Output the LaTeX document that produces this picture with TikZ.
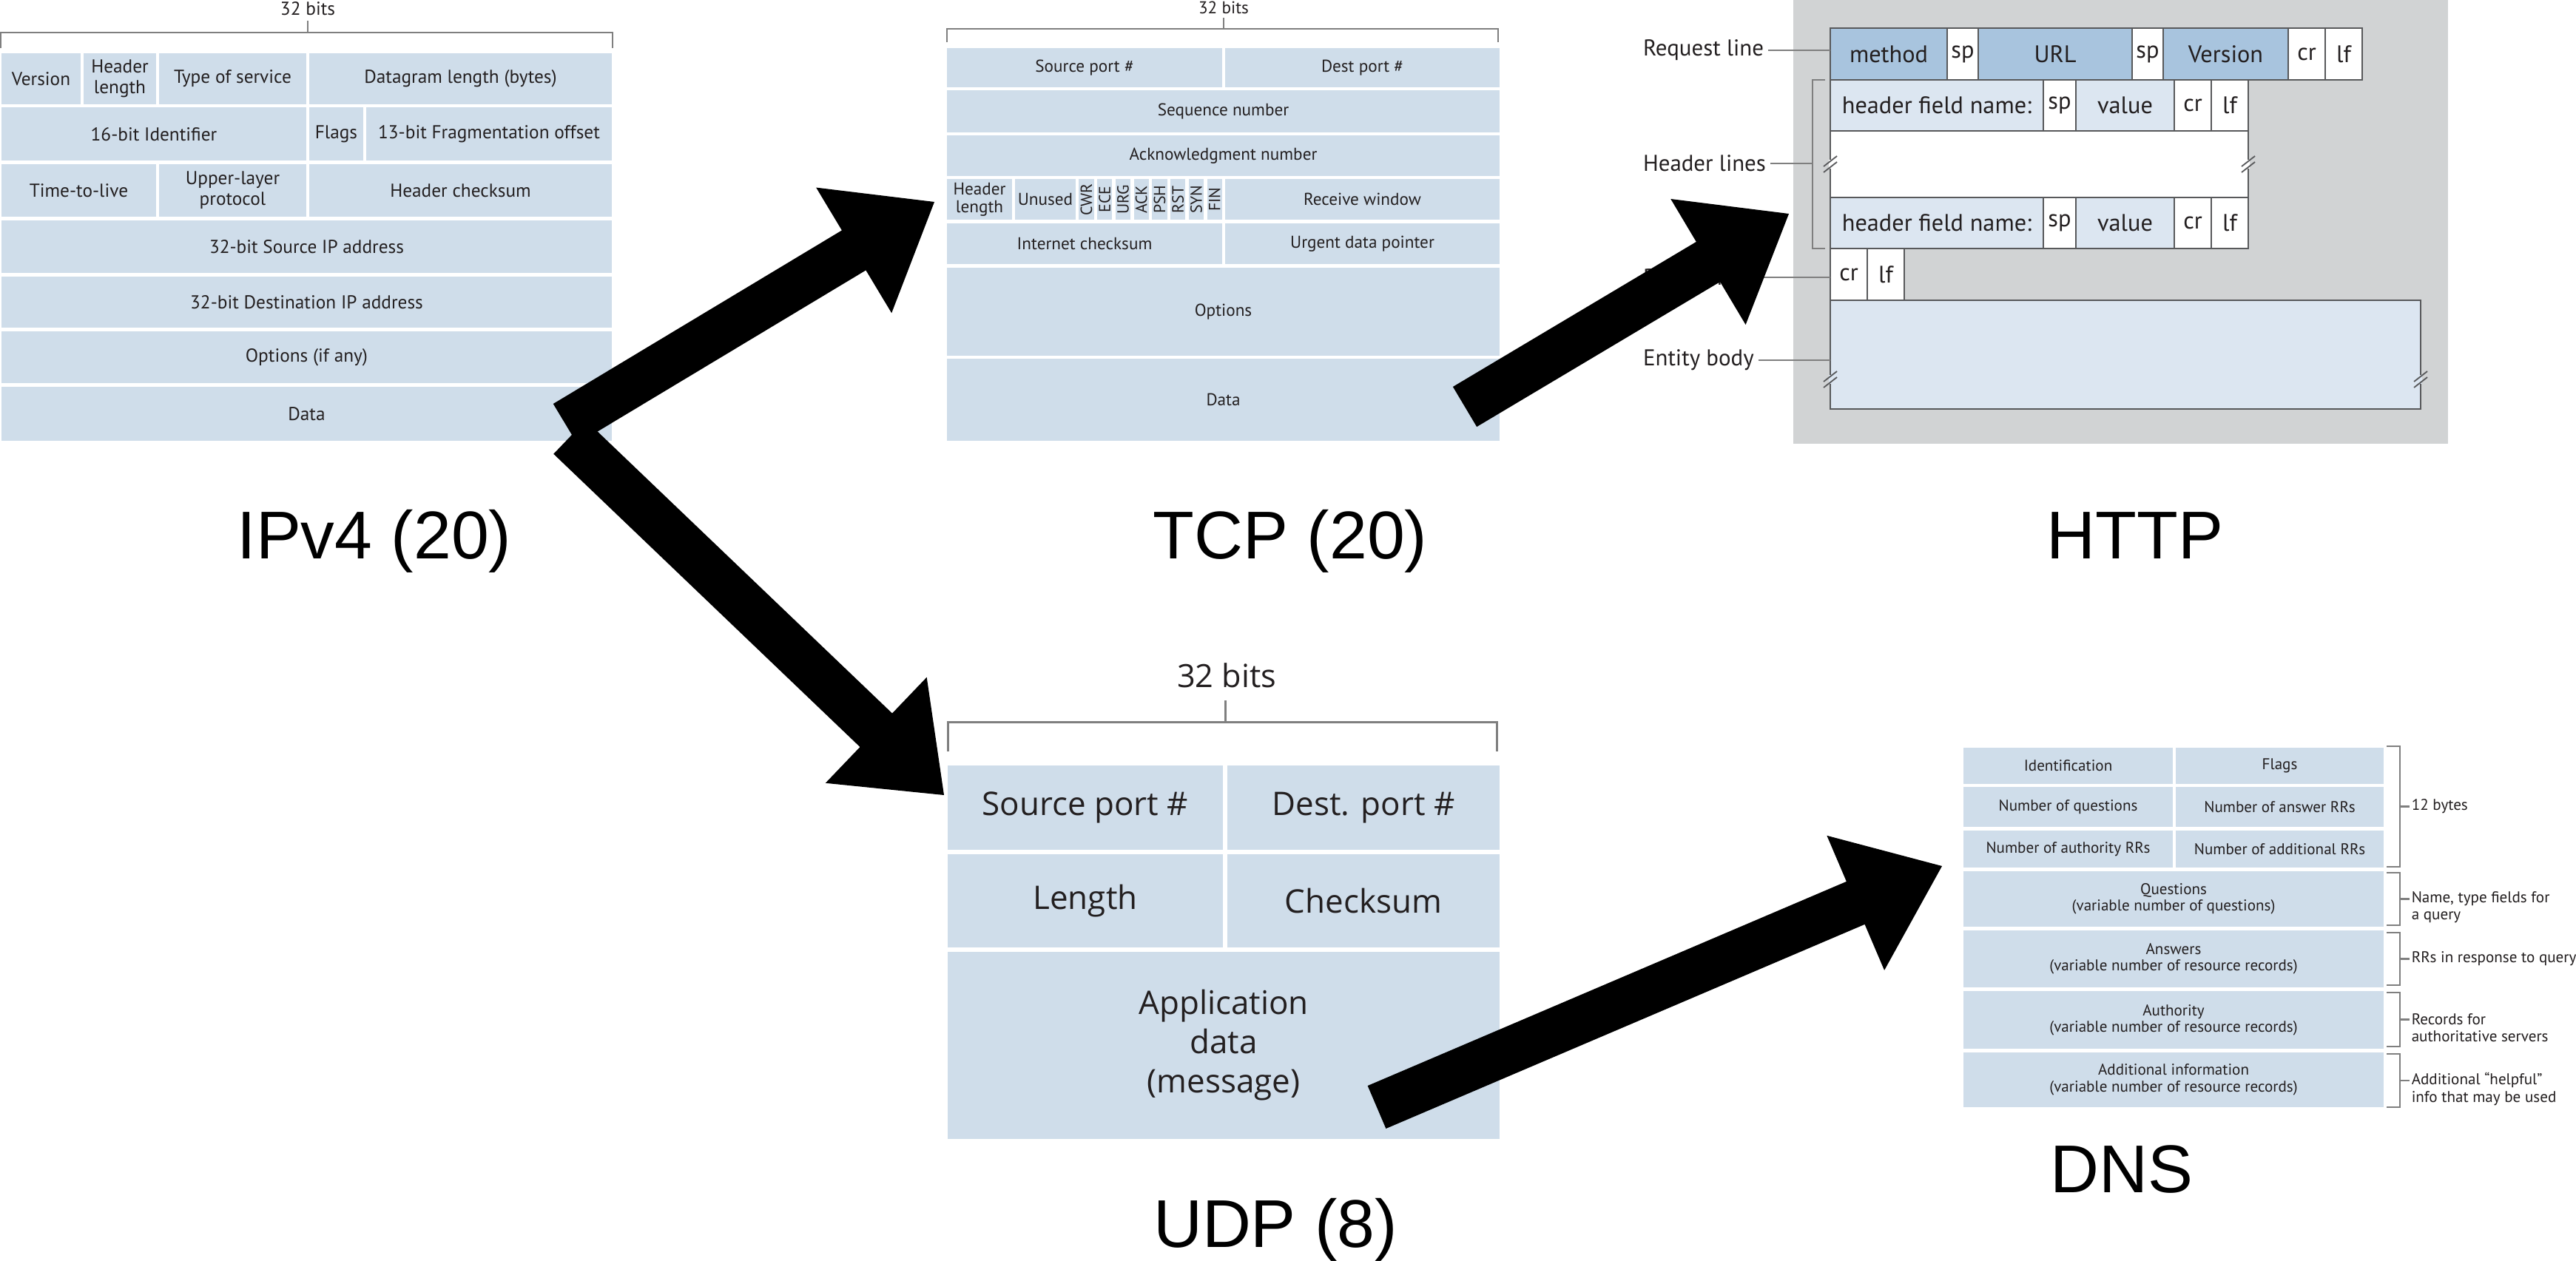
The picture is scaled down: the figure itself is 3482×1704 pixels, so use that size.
\documentclass[tikz,border=0pt]{standalone}
\usepackage{fontspec}
\usepackage{graphicx}
\setmainfont{PT Sans}
\newfontfamily\bigfam{Liberation Sans}
\newfontfamily\udpfam{Open Sans}
\usetikzlibrary{calc}
\definecolor{cellb}{HTML}{CFDDEA}
\definecolor{httpd}{HTML}{A8C4DE}
\definecolor{httpl}{HTML}{DCE6F1}
\definecolor{grayb}{HTML}{D1D3D4}
\definecolor{txt}{HTML}{231F20}
\definecolor{brk}{HTML}{7F7F7F}
\definecolor{hb}{HTML}{58595B}
\newcommand\cellfit[7][]{%
  \pgfmathsetmacro\cw{abs(#5-#3)*0.1}%
  \pgfmathsetmacro\ch{abs(#6-#4)*0.1}%
  \pgfmathsetmacro\cx{(#3+#5)/2}%
  \pgfmathsetmacro\cy{(#4+#6)/2}%
  \node[#1, minimum width=\cw mm, minimum height=\ch mm] (#2) at (\cx,\cy) {#7};}
\newcommand\blockarrow[2]{%
  \coordinate (#1m) at ($(#2)!12.7mm!(#1)$);
  \fill[black] ($(#1)!3.15mm!90:(#2)$) -- ($(#1m)!3.15mm!90:(#2)$) -- ($(#1m)!9.9mm!90:(#2)$) -- (#2)
    -- ($(#1m)!9.9mm!-90:(#2)$) -- ($(#1m)!3.15mm!-90:(#2)$) -- ($(#1)!3.15mm!-90:(#2)$) -- cycle;}
\newcommand\breakmark[3]{%
  \begin{scope}[shift={(#1,#2)}]
    \draw[#3, line width=0.4mm] (0,-6) -- (0,6);
    \draw[hb, line width=0.18mm] (-9,3) -- (9,-11);
    \draw[hb, line width=0.18mm] (-9,11) -- (9,-3);
  \end{scope}}
\tikzset{
  cell/.style={rectangle, fill=cellb, draw=white, line width=0.45mm, inner sep=0pt, outer sep=0pt, align=center, text=txt},
  ipc/.style={cell, font=\fontsize{7.2}{7.9}\selectfont},
  tcc/.style={cell, font=\fontsize{6.6}{7}\selectfont},
  udc/.style={cell, line width=0.6mm, font=\udpfam\fontsize{12.5}{15}\selectfont},
  dnc/.style={cell, font=\fontsize{6}{6.3}\selectfont},
  hc/.style={rectangle, draw=hb, line width=0.2mm, inner sep=0pt, outer sep=0pt, align=center, text=txt, font=\fontsize{9.2}{10}\selectfont},
  brack/.style={draw=brk, line width=0.22mm},
  toplbl/.style={text=txt, inner sep=0pt},
  hlbl/.style={text=txt, inner sep=1.5pt, anchor=west, font=\fontsize{8.8}{10}\selectfont},
  dlbl/.style={text=txt, inner sep=0pt, anchor=west, align=left, font=\fontsize{6}{6.6}\selectfont},
  biglbl/.style={anchor=base, inner sep=0pt, font=\bigfam\fontsize{26}{30}\selectfont}
}
\begin{document}
\begin{tikzpicture}[x=0.1mm,y=-0.1mm]
\useasboundingbox (0,0) rectangle (3482,1704);
\fill[white] (0,0) rectangle (3482,1704);

% ---------------- IPv4 ----------------
\node[toplbl, font=\fontsize{7.2}{8}\selectfont] (ip32) at (416,12) {32 bits};
\draw[brack] (416,28) -- (416,44);
\draw[brack] (1,65) -- (1,44) -- (828,44) -- (828,65);
\cellfit[ipc]{ipver}{0}{70}{111}{143}{Version}
\cellfit[ipc]{iphl}{111}{70}{213}{143}{Header\\length}
\cellfit[ipc]{iptos}{213}{70}{416}{143}{Type of service}
\cellfit[ipc]{ipdl}{416}{70}{829}{143}{Datagram length (bytes)}
\cellfit[ipc]{ipid}{0}{143}{416}{219.5}{16-bit Identifier}
\cellfit[ipc]{ipfl}{416}{143}{493}{219.5}{Flags}
\cellfit[ipc]{ipfr}{493}{143}{829}{219.5}{13-bit Fragmentation offset}
\cellfit[ipc]{ipttl}{0}{219.5}{213}{295.5}{Time-to-live}
\cellfit[ipc]{ipulp}{213}{219.5}{416}{295.5}{Upper-layer\\protocol}
\cellfit[ipc]{iphc}{416}{219.5}{829}{295.5}{Header checksum}
\cellfit[ipc]{ipsrc}{0}{295.5}{829}{371.5}{32-bit Source IP address}
\cellfit[ipc]{ipdst}{0}{371.5}{829}{445.5}{32-bit Destination IP address}
\cellfit[ipc]{ipopt}{0}{445.5}{829}{520.5}{Options (if any)}
\cellfit[ipc]{ipdata}{0}{520.5}{829}{598}{Data}

% ---------------- TCP ----------------
\node[toplbl, font=\fontsize{6.6}{7}\selectfont] (tcp32) at (1654,10) {32 bits};
\draw[brack] (1654,24) -- (1654,39);
\draw[brack] (1280,57) -- (1280,39) -- (2025,39) -- (2025,57);
\cellfit[tcc]{tsp}{1278}{63}{1654}{120}{Source port \#}
\cellfit[tcc]{tdp}{1654}{63}{2029}{120}{Dest port \#}
\cellfit[tcc]{tseq}{1278}{120}{2029}{181}{Sequence number}
\cellfit[tcc]{tack}{1278}{181}{2029}{240}{Acknowledgment number}
\cellfit[tcc]{thl}{1278}{240}{1370}{299.5}{Header\\length}
\cellfit[tcc]{tun}{1370}{240}{1456}{299.5}{Unused}
\foreach \f [count=\i from 0] in {CWR,ECE,URG,ACK,PSH,RST,SYN,FIN}{
  \pgfmathsetmacro\xa{1456+24.75*\i}
  \pgfmathsetmacro\xb{1456+24.75*(\i+1)}
  \cellfit[tcc, font=\fontsize{6.2}{7}\selectfont]{tf\f}{\xa}{240}{\xb}{299.5}{\rotatebox{90}{\f}}
}
\cellfit[tcc]{trw}{1654}{240}{2029}{299.5}{Receive window}
\cellfit[tcc]{tic}{1278}{299.5}{1654}{359.5}{Internet checksum}
\cellfit[tcc]{tud}{1654}{299.5}{2029}{359.5}{Urgent data pointer}
\cellfit[tcc]{topt}{1278}{359.5}{2029}{483}{Options}
\cellfit[tcc]{tdata}{1278}{483}{2029}{598}{Data}

% ---------------- HTTP ----------------
\cellfit[fill=grayb, inner sep=0pt, outer sep=0pt]{hbg}{2424}{0}{3309}{600}{}
\cellfit[hc,fill=httpd]{hmeth}{2474}{38}{2632}{108}{method}
\cellfit[hc,fill=white]{hsp1}{2632}{38}{2674}{108}{sp}
\cellfit[hc,fill=httpd]{hurl}{2674}{38}{2882}{108}{URL}
\cellfit[hc,fill=white]{hsp2}{2882}{38}{2924}{108}{sp}
\cellfit[hc,fill=httpd]{hver}{2924}{38}{3093}{108}{Version}
\cellfit[hc,fill=white]{hcr0}{3093}{38}{3143}{108}{cr}
\cellfit[hc,fill=white]{hlf0}{3143}{38}{3193}{108}{lf}
\cellfit[hc,fill=httpl]{hna1}{2474}{108}{2762}{177}{header field name:}
\cellfit[hc,fill=white]{hsa1}{2762}{108}{2806}{177}{sp}
\cellfit[hc,fill=httpl]{hva1}{2806}{108}{2939}{177}{value}
\cellfit[hc,fill=white]{hcr1}{2939}{108}{2989}{177}{cr}
\cellfit[hc,fill=white]{hlf1}{2989}{108}{3039}{177}{lf}
\cellfit[hc,fill=white]{hblank}{2474}{177}{3039}{267}{}
\cellfit[hc,fill=httpl]{hna2}{2474}{267}{2762}{336}{header field name:}
\cellfit[hc,fill=white]{hsa2}{2762}{267}{2806}{336}{sp}
\cellfit[hc,fill=httpl]{hva2}{2806}{267}{2939}{336}{value}
\cellfit[hc,fill=white]{hcr2}{2939}{267}{2989}{336}{cr}
\cellfit[hc,fill=white]{hlf2}{2989}{267}{3039}{336}{lf}
\cellfit[hc,fill=white]{hcr3}{2474}{336}{2524}{406}{cr}
\cellfit[hc,fill=white]{hlf3}{2524}{336}{2574}{406}{lf}
\cellfit[hc,fill=httpl]{hbody}{2474}{406}{3272}{553}{}
\breakmark{2474}{222}{white}
\breakmark{3039}{222}{white}
\breakmark{2474}{513}{httpl}
\breakmark{3272}{513}{httpl}
\node[hlbl] (lreq) at (2215,68) {Request line};
\draw[brack] (lreq.east) -- (lreq.east -| hmeth.west);
\node[hlbl] (lhdr) at (2215,221) {Header lines};
\draw[brack] (2467,108) -- (2450,108) -- (2450,336) -- (2467,336);
\draw[brack] (lhdr.east) -- (2450,221);
\node[hlbl] (lblank) at (2215,375) {Blank line};
\draw[brack] (lblank.east) -- (lblank.east -| hcr3.west);
\node[hlbl] (lbody) at (2215,487) {Entity body};
\draw[brack] (lbody.east) -- (lbody.east -| hbody.west);

% ---------------- UDP ----------------
\node[toplbl, font=\udpfam\fontsize{12.3}{14}\selectfont] (udp32) at (1658,913) {32 bits};
\draw[brack, line width=0.3mm] (1656,947) -- (1656,976);
\draw[brack, line width=0.3mm] (1281,1016) -- (1281,976) -- (2023,976) -- (2023,1016);
\cellfit[udc]{usp}{1278}{1032}{1656}{1152}{Source port \#}
\cellfit[udc]{udp}{1656}{1032}{2030}{1152}{Dest. port \#}
\cellfit[udc]{ulen}{1278}{1152}{1656}{1283.5}{Length}
\cellfit[udc]{uck}{1656}{1152}{2030}{1283.5}{Checksum}
\cellfit[udc]{uapp}{1278}{1283.5}{2030}{1543}{Application\\data\\(message)}

% ---------------- DNS ----------------
\cellfit[dnc]{did}{2652}{1009}{2939}{1062}{Identification}
\cellfit[dnc]{dfl}{2939}{1009}{3224}{1062}{Flags}
\cellfit[dnc]{dnq}{2652}{1062}{2939}{1120.5}{Number of questions}
\cellfit[dnc]{dna}{2939}{1062}{3224}{1120.5}{Number of answer RRs}
\cellfit[dnc]{dnau}{2652}{1120.5}{2939}{1175.5}{Number of authority RRs}
\cellfit[dnc]{dnad}{2939}{1120.5}{3224}{1175.5}{Number of additional RRs}
\cellfit[dnc]{dq}{2652}{1175.5}{3224}{1255.5}{Questions\\(variable number of questions)}
\cellfit[dnc]{dan}{2652}{1255.5}{3224}{1337.5}{Answers\\(variable number of resource records)}
\cellfit[dnc]{dau}{2652}{1337.5}{3224}{1420.5}{Authority\\(variable number of resource records)}
\cellfit[dnc]{dad}{2652}{1420.5}{3224}{1499}{Additional information\\(variable number of resource records)}
\foreach \ya/\yb in {1009/1172,1180/1251,1261/1332,1342/1415,1425/1497}{
  \draw[brack] (3226,\ya) -- (3244,\ya) -- (3244,\yb) -- (3226,\yb);
  \pgfmathsetmacro\ym{(\ya+\yb)/2}
  \draw[brack] (3244,\ym) -- (3257,\ym);
}
\node[dlbl] (d12) at (3259,1090.5) {12 bytes};
\node[dlbl] (dqn) at (3259,1227) {Name, type fields for\\a query};
\node[dlbl] (drr) at (3259,1296.5) {RRs in response to query};
\node[dlbl] (drec) at (3259,1390) {Records for\\authoritative servers};
\node[dlbl] (dadd) at (3259,1472.5) {Additional ``helpful''\\info that may be used};

% ---------------- big labels ----------------
\node[biglbl] (Lip) at (506,755) {IPv4 (20)};
\node[biglbl] (Ltcp) at (1744,755) {TCP (20)};
\node[biglbl] (Lhttp) at (2886,755) {HTTP};
\node[biglbl] (Ludp) at (1724,1686) {UDP (8)};
\node[biglbl] (Ldns) at (2868,1612) {DNS};

% ---------------- arrows ----------------
\coordinate (a1t) at (764,573);  \coordinate (a1h) at (1263,273);
\coordinate (a2t) at (770,591);  \coordinate (a2h) at (1276,1075);
\coordinate (a3t) at (1980,550); \coordinate (a3h) at (2418,289);
\coordinate (a4t) at (1861,1497);\coordinate (a4h) at (2625,1171);
\blockarrow{a1t}{a1h}
\blockarrow{a2t}{a2h}
\blockarrow{a3t}{a3h}
\blockarrow{a4t}{a4h}
\end{tikzpicture}
\end{document}
